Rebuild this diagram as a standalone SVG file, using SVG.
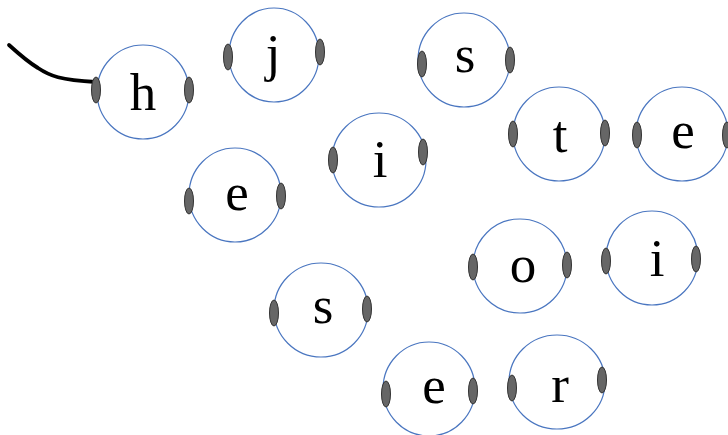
<svg xmlns="http://www.w3.org/2000/svg" width="728" height="435" viewBox="0 0 728 435">
<style>
.c{fill:#fff;stroke:#4a76c0;stroke-width:1.2}
.k{fill:#666;stroke:#333;stroke-width:1}
.t{font-family:"Liberation Serif","Times New Roman",serif;font-size:53px;fill:#000;text-anchor:middle}
</style>
<rect width="728" height="435" fill="#fff"/>
<g id="connectors">
<path d="M9,45 C20,55 28,62 38,68 C50,76 60,80 96,82" fill="none" stroke="#000" stroke-width="3.8" stroke-linecap="round"/>
</g>
<g id="n-h"><ellipse class="c" cx="143" cy="92" rx="46" ry="47"/><ellipse class="k" cx="96" cy="90" rx="4.5" ry="13"/><ellipse class="k" cx="189" cy="90" rx="4.5" ry="13"/><text class="t" x="143" y="110">h</text></g>
<g id="n-j"><ellipse class="c" cx="274" cy="55" rx="45" ry="47"/><ellipse class="k" cx="228" cy="57" rx="4.5" ry="13"/><ellipse class="k" cx="320" cy="52" rx="4.5" ry="13"/><text class="t" x="273" y="71">j</text></g>
<g id="n-s1"><ellipse class="c" cx="464" cy="60" rx="46" ry="47"/><ellipse class="k" cx="422" cy="64" rx="4.5" ry="13"/><ellipse class="k" cx="510" cy="60" rx="4.5" ry="13"/><text class="t" x="465" y="72">s</text></g>
<g id="n-t"><ellipse class="c" cx="559" cy="134" rx="46" ry="47"/><ellipse class="k" cx="513" cy="134" rx="4.5" ry="13"/><ellipse class="k" cx="605" cy="133" rx="4.5" ry="13"/><text class="t" x="560" y="152">t</text></g>
<g id="n-e1"><ellipse class="c" cx="682" cy="134" rx="46" ry="47"/><ellipse class="k" cx="637" cy="135" rx="4.5" ry="13"/><ellipse class="k" cx="727" cy="135" rx="4.5" ry="13"/><text class="t" x="683" y="148">e</text></g>
<g id="n-e2"><ellipse class="c" cx="235" cy="195" rx="46" ry="47"/><ellipse class="k" cx="189" cy="201" rx="4.5" ry="13"/><ellipse class="k" cx="281" cy="196" rx="4.5" ry="13"/><text class="t" x="237" y="210">e</text></g>
<g id="n-i1"><ellipse class="c" cx="379" cy="160" rx="47" ry="47"/><ellipse class="k" cx="333" cy="160" rx="4.5" ry="13"/><ellipse class="k" cx="423" cy="152" rx="4.5" ry="13"/><text class="t" x="380" y="177">i</text></g>
<g id="n-o"><ellipse class="c" cx="520" cy="266" rx="47" ry="47"/><ellipse class="k" cx="473" cy="267" rx="4.5" ry="13"/><ellipse class="k" cx="567" cy="265" rx="4.5" ry="13"/><text class="t" x="523" y="282">o</text></g>
<g id="n-i2"><ellipse class="c" cx="652" cy="258" rx="46" ry="47"/><ellipse class="k" cx="606" cy="261" rx="4.5" ry="13"/><ellipse class="k" cx="696" cy="259" rx="4.5" ry="13"/><text class="t" x="657" y="276">i</text></g>
<g id="n-s2"><ellipse class="c" cx="321" cy="310" rx="47" ry="47"/><ellipse class="k" cx="274" cy="313" rx="4.5" ry="13"/><ellipse class="k" cx="367" cy="309" rx="4.5" ry="13"/><text class="t" x="323" y="323">s</text></g>
<g id="n-e3"><ellipse class="c" cx="429" cy="389" rx="46" ry="47"/><ellipse class="k" cx="386" cy="394" rx="4.5" ry="13"/><ellipse class="k" cx="473" cy="391" rx="4.5" ry="13"/><text class="t" x="434" y="403">e</text></g>
<g id="n-r"><ellipse class="c" cx="557" cy="382" rx="48" ry="47"/><ellipse class="k" cx="512" cy="388" rx="4.5" ry="13"/><ellipse class="k" cx="602" cy="380" rx="4.5" ry="13"/><text class="t" x="560" y="402">r</text></g>
</svg>
